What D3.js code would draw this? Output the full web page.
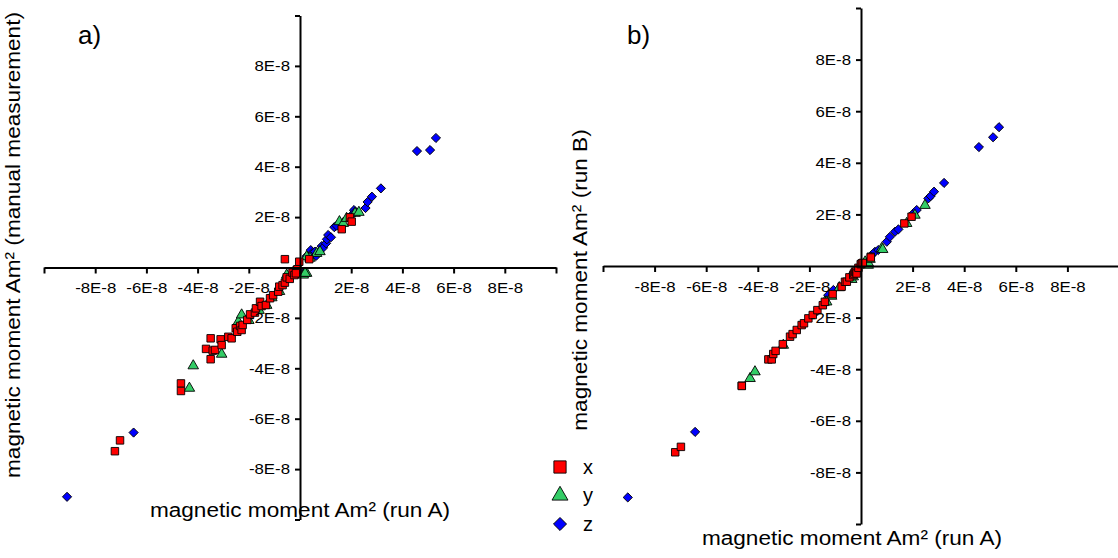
<!DOCTYPE html>
<html>
<head>
<meta charset="utf-8">
<script src="https://cdn.jsdelivr.net/npm/d3@7"></script>
<style>
  body { margin: 0; background: #fff; }
  svg { display: block; font-family: "Liberation Sans", Arial, sans-serif; }
</style>
</head>
<body>
<div id="my_dataviz"></div>
<script>

// values are in units of 1E-8 Am², pairs are [run A, other measurement]
var panelA_x = [[-7.23,-7.29],[-7.03,-6.86],[-4.65,-4.6],[-4.65,-4.9],[-3.67,-3.23],[-3.49,-2.81],[-3.41,-3.3],[-3.49,-3.64],
  [-3.32,-3.27],[-3.1,-2.85],[-3.06,-3.08],[-2.8,-2.75],[-2.67,-2.81],[-2.51,-2.41],[-2.45,-2.55],[-2.34,-2.32],[-2.28,-2.48],
  [-2.24,-2.28],[-2.06,-2.08],[-1.95,-1.86],[-1.76,-1.79],[-1.72,-1.62],[-1.56,-1.36],[-1.5,-1.53],[-1.33,-1.49],[-1.17,-1.22],
  [-1.05,-1.1],[-0.85,-0.96],[-0.81,-0.76],[-0.68,-0.7],[-0.59,-0.6],[-0.52,-0.39],[-0.4,-0.45],[-0.29,-0.2],[-0.22,-0.3],
  [-0.13,-0.1],[-0.1,-0.07],[-0.16,-0.23],[-0.59,0.33],[-0.03,0.23],[0.36,0.33],[1.63,1.52],[1.95,1.99],[2.02,1.82]];
var panelA_y = [[-4.32,-4.79],[-4.17,-3.9],[-3.06,-3.44],[-2.41,-2.15],[-2.28,-1.88],[-2.0,-2.1],[-1.6,-1.7],[-1.3,-1.5],
  [-1.1,-1.2],[-0.8,-0.95],[-0.52,-0.3],[0.13,-0.3],[0.26,-0.23],[0.2,-0.23],[0.39,0.37],[0.26,0.43],[0.65,0.56],[0.78,0.63],
  [1.54,1.82],[1.69,1.75],[1.82,1.95],[2.15,2.15],[2.3,2.19]];
var panelA_z = [[-9.1,-9.1],[-6.5,-6.55],[0.13,-0.2],[0.26,0.45],[0.42,0.69],[0.5,0.6],[0.59,0.63],[0.63,0.46],[0.85,0.85],
  [0.9,0.78],[1.02,0.96],[1.05,1.12],[1.1,1.29],[1.21,1.2],[1.34,1.6],[1.43,1.66],[2.06,2.12],[2.11,2.28],[2.15,2.2],
  [2.56,2.36],[2.64,2.6],[2.81,2.81],[3.16,3.14],[4.57,4.62],[5.08,4.66],[5.31,5.14]];

var panelB_x = [[-7.2,-7.22],[-6.98,-7.01],[-4.62,-4.64],[-4.62,-4.65],[-3.59,-3.62],[-3.46,-3.62],[-3.4,-3.41],[-3.31,-3.29],
  [-3.03,-3.03],[-2.75,-2.74],[-2.65,-2.64],[-2.49,-2.48],[-2.3,-2.29],[-2.21,-2.22],[-2.04,-2.03],[-1.87,-1.9],[-1.69,-1.71],
  [-1.48,-1.52],[-1.4,-1.39],[-1.1,-1.09],[-0.75,-0.8],[-0.62,-0.61],[-0.55,-0.61],[-0.45,-0.44],[-0.3,-0.35],[-0.27,-0.29],
  [-0.23,-0.22],[-0.19,-0.22],[-0.17,-0.29],[-0.1,-0.07],[-0.01,0.07],[0.03,0.1],[0.07,0.12],[0.38,0.36],[0.38,0.33],
  [1.68,1.65],[1.96,1.91]];
var panelB_y = [[-4.3,-4.36],[-4.11,-4.1],[-3.01,-3.07],[-1.4,-1.39],[-1.33,-1.39],[-1.14,-1.17],[-0.84,-0.84],[-0.45,-0.48],
  [-0.36,-0.52],[-0.3,-0.42],[0.16,0.16],[0.28,0.03],[0.28,0.12],[0.35,0.26],[0.8,0.68],[0.84,0.64],[1.77,1.65],[2.09,1.97],
  [2.48,2.35]];
var panelB_z = [[-9.04,-8.97],[-6.43,-6.43],[-1.27,-1.13],[-1.07,-0.93],[0.41,0.42],[0.54,0.55],[0.67,0.62],[1.0,0.94],
  [1.12,1.13],[1.32,1.33],[1.45,1.42],[2.03,2.04],[2.16,2.17],[2.61,2.62],[2.7,2.71],[2.83,2.88],[3.22,3.22],[4.57,4.61],
  [5.12,4.99],[5.35,5.38]];

var tickValues = [-10, -8, -6, -4, -2, 2, 4, 6, 8, 10];
var tickLabels = ["", "-8E-8", "-6E-8", "-4E-8", "-2E-8", "2E-8", "4E-8", "6E-8", "8E-8", ""];
var seriesNames = ["x", "y", "z"];

var colors = {x: "#ff0000", y: "#33cc66", z: "#0000ff"};
// diamond is a square turned by 45 degrees, like the original markers
var shapes = {x: d3.symbolSquare, y: d3.symbolTriangle, z: d3.symbolSquare};
var turn = {x: 0, y: 0, z: 45};
var sizes = {x: 56, y: 48, z: 42};
var legendSizes = {x: 150, y: 110, z: 85};

var svg = d3.select("#my_dataviz")
  .append("svg")
    .attr("width", 1118)
    .attr("height", 558);

function label(v) {
  return tickLabels[tickValues.indexOf(v)];
}

// the original text is a bit wider than Liberation Sans, stretch it a little
function stretch(sel, k) {
  sel.each(function() {
    var len = this.getComputedTextLength();
    if (len > 0) {
      d3.select(this).attr("textLength", len * k).attr("lengthAdjust", "spacingAndGlyphs");
    }
  });
}

function drawPanel(p) {
  var x = d3.scaleLinear().domain([-10, 10]).range([p.left, p.right]);
  var y = d3.scaleLinear().domain([-10, 10]).range([p.bottom, p.top]);

  var g = svg.append("g");

  // blue first, red on top
  [["z", p.z], ["y", p.y], ["x", p.x]].forEach(function(s) {
    var k = s[0];
    g.append("g").selectAll("path")
      .data(s[1])
      .enter()
      .append("path")
      .attr("d", d3.symbol().type(shapes[k]).size(sizes[k]))
      .attr("transform", function(d) { return "translate(" + x(d[0]) + "," + y(d[1]) + ") rotate(" + turn[k] + ")"; })
      .style("fill", colors[k])
      .style("stroke", "#000")
      .style("stroke-width", 0.9);
  });

  var xAxis = g.append("g")
    .attr("transform", "translate(0," + y(0) + ")")
    .call(d3.axisBottom(x).tickValues(tickValues).tickFormat(label).tickSize(6).tickSizeOuter(0).tickPadding(9));
  var yAxis = g.append("g")
    .attr("transform", "translate(" + x(0) + ",0)")
    .call(d3.axisLeft(y).tickValues(tickValues).tickFormat(label).tickSize(5).tickSizeOuter(0).tickPadding(5));

  [xAxis, yAxis].forEach(function(a) {
    a.selectAll("path, line").style("stroke", "#000").style("stroke-width", 2);
    a.selectAll("text").style("font-size", "15px").style("fill", "#000")
      .style("font-family", '"Liberation Sans", Arial, sans-serif')
      .call(stretch, 1.12);
  });

  g.append("text")
    .attr("x", p.xTitle[0]).attr("y", p.xTitle[1])
    .attr("text-anchor", "middle")
    .style("font-size", "20px")
    .text("magnetic moment Am² (run A)")
    .call(stretch, 1.13);

  g.append("text")
    .attr("transform", "translate(" + p.yTitle[0] + "," + p.yTitle[1] + ") rotate(-90)")
    .attr("text-anchor", "middle")
    .style("font-size", "20px")
    .text(p.yText)
    .call(stretch, 1.13);

  g.append("text")
    .attr("x", p.tag[0]).attr("y", p.tag[1])
    .style("font-size", "26px")
    .text(p.tagText);
}

drawPanel({left: 44, right: 556, top: 15.5, bottom: 519.5,
  x: panelA_x, y: panelA_y, z: panelA_z,
  xTitle: [300, 517], yTitle: [20, 245], yText: "magnetic moment Am² (manual measurement)",
  tag: [78, 44], tagText: "a)"});

drawPanel({left: 603, right: 1119, top: 8, bottom: 524,
  x: panelB_x, y: panelB_y, z: panelB_z,
  xTitle: [852, 545], yTitle: [587, 280], yText: "magnetic moment Am² (run B)",
  tag: [627, 44], tagText: "b)"});

// legend
var legend = svg.append("g").selectAll("g")
  .data(seriesNames)
  .enter()
  .append("g")
  .attr("transform", function(d, i) { return "translate(560," + (467 + i * 28.5) + ")"; });

legend.append("path")
  .attr("d", function(d) { return d3.symbol().type(shapes[d]).size(legendSizes[d])(); })
  .attr("transform", function(d) { return "rotate(" + turn[d] + ")"; })
  .style("fill", function(d) { return colors[d]; })
  .style("stroke", "#000")
  .style("stroke-width", 0.9);

legend.append("text")
  .attr("x", 23)
  .attr("y", 6.5)
  .style("font-size", "20px")
  .text(function(d) { return d; });

</script>
</body>
</html>
